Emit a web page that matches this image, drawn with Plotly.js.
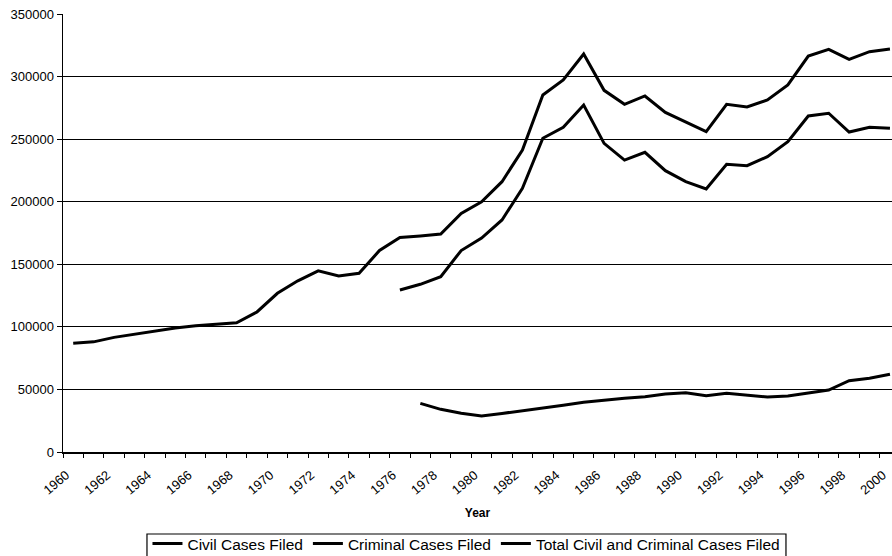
<!DOCTYPE html>
<html>
<head>
<meta charset="utf-8">
<script src="https://cdn.plot.ly/plotly-3.0.1.min.js"></script>
<style>
  html, body { margin: 0; padding: 0; background: #fff; }
  #chart { width: 892px; height: 556px; }
</style>
</head>
<body>
<div id="chart"></div>
<script>
const years = [1960,1961,1962,1963,1964,1965,1966,1967,1968,1969,1970,1971,1972,1973,1974,1975,1976,1977,1978,1979,1980,1981,1982,1983,1984,1985,1986,1987,1988,1989,1990,1991,1992,1993,1994,1995,1996,1997,1998,1999,2000];

const civilCases = [null,null,null,null,null,null,null,null,null,null,null,null,null,null,null,null,
  129500,134000,140100,161000,171000,185400,210700,250700,259500,277300,246600,233300,239500,224800,216000,210200,229900,228800,236000,248000,268500,270700,255700,259500,258700];

const criminalCases = [null,null,null,null,null,null,null,null,null,null,null,null,null,null,null,null,null,
  38900,34100,30900,28800,30800,32800,34900,37400,39800,41500,42900,44200,46300,47400,45000,46900,45500,44000,44700,46900,49500,57000,58900,62100];

const totalCases = [87000,88000,91600,94300,96700,99100,100900,102300,103300,111900,126800,136800,144800,140600,142800,161000,
  171500,172700,174200,190700,200000,216000,241300,285300,297300,318000,289000,277800,284500,271400,264000,256000,277800,275700,281300,293300,316400,321800,313800,319900,322000];

const seriesNames = ["Civil Cases Filed", "Criminal Cases Filed", "Total Civil and Criminal Cases Filed"];
const xTickVals = years.filter(y => y % 2 === 0);
const xTickText = xTickVals.map(String);
const yTickVals = [0,50000,100000,150000,200000,250000,300000,350000];

const lineStyle = {color: "#000", width: 3};
const traces = [
  {x: years, y: civilCases, name: seriesNames[0], type: "scatter", mode: "lines", line: lineStyle, connectgaps: false},
  {x: years, y: criminalCases, name: seriesNames[1], type: "scatter", mode: "lines", line: lineStyle, connectgaps: false},
  {x: years, y: totalCases, name: seriesNames[2], type: "scatter", mode: "lines", line: lineStyle, connectgaps: false}
];

const font = "Liberation Sans, Arial, Helvetica, sans-serif";
const layout = {
  width: 892, height: 556,
  margin: {l: 63, r: 0, t: 14, b: 104, autoexpand: false},
  paper_bgcolor: "#fff", plot_bgcolor: "#fff",
  font: {family: font, color: "#000"},
  showlegend: true,
  legend: {
    orientation: "h", x: 0.4867, xanchor: "center",
    yref: "container", y: 0.0216, yanchor: "middle",
    borderwidth: 0, bgcolor: "rgba(0,0,0,0)",
    font: {size: 15.5, family: font, color: "#000"},
    tracegroupgap: 0, itemwidth: 30
  },
  shapes: [
    {type: "rect", xref: "paper", yref: "paper", x0: 0.1013, x1: 0.8721, y0: -0.2466, y1: -0.1872,
     line: {color: "#000", width: 1.2}, fillcolor: "rgba(0,0,0,0)", layer: "below"}
  ],
  xaxis: {
    range: [1959.5, 2000.1], automargin: false,
    tickvals: xTickVals, ticktext: xTickText,
    tickangle: -40, ticks: "", ticklabeloverflow: "allow",
    ticklabelshift: -7, ticklabelstandoff: 9,
    tickfont: {size: 13, family: font, color: "#000"},
    showgrid: false, zeroline: false,
    showline: true, linecolor: "#000", linewidth: 1.5,
    minor: {tick0: 1959.5, dtick: 1, ticks: "outside", ticklen: 4, tickcolor: "#000", tickwidth: 1, showgrid: false},
    title: {text: "Year", font: {size: 12, family: font, color: "#000", weight: "bold"}, standoff: 12}
  },
  yaxis: {
    range: [0, 350000], automargin: false,
    tickvals: yTickVals, tickformat: "d",
    ticks: "outside", ticklen: 5, tickcolor: "#000", tickwidth: 1,
    tickfont: {size: 13, family: font, color: "#000"},
    showgrid: true, gridcolor: "#000", gridwidth: 1.2,
    zeroline: false,
    showline: true, linecolor: "#000", linewidth: 1.5
  }
};

Plotly.newPlot("chart", traces, layout, {displayModeBar: false, staticPlot: true});
</script>
</body>
</html>
